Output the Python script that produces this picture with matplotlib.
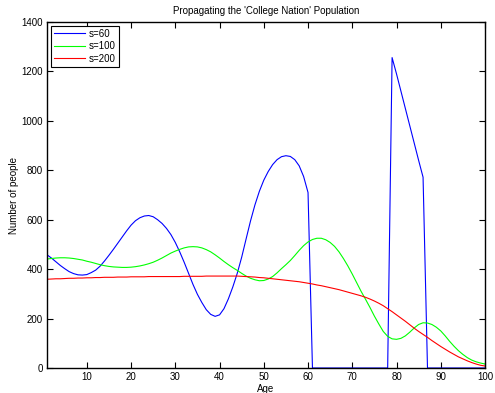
#!/usr/bin/python
# -*- coding: utf-8 -*-

import numpy as np
import matplotlib
matplotlib.use("Agg")
import matplotlib.pyplot as plt

# Ages 1..100
age = np.arange(1, 101)

# s=60 population
pop_s60 = [458, 445, 430, 415, 402, 390, 382, 377, 376, 378,
           386, 396, 412, 433, 456, 480, 505, 530, 555, 578,
           596, 608, 615, 617, 612, 600, 585, 565, 540, 508,
           470, 428, 383, 338, 298, 265, 236, 217, 209, 215,
           240, 280, 328, 383, 448, 522, 595, 660, 715, 760,
           795, 823, 843, 855, 859, 856, 843, 818, 775, 710,
           0, 0, 0, 0, 0, 0, 0, 0, 0, 0,
           0, 0, 0, 0, 0, 0, 0, 0, 1256, 1190,
           1120, 1050, 980, 910, 840, 772, 0, 0, 0, 0,
           0, 0, 0, 0, 0, 0, 0, 0, 0, 0]

# s=100 population
pop_s100 = [441, 443, 445, 446, 446, 445, 443, 440, 437, 432,
            428, 423, 418, 414, 411, 409, 408, 407, 407, 408,
            410, 413, 417, 422, 428, 436, 445, 455, 465, 473,
            480, 486, 490, 491, 490, 486, 479, 470, 458, 445,
            431, 418, 406, 395, 383, 372, 363, 357, 353, 354,
            360, 370, 385, 402, 418, 435, 455, 476, 495, 510,
            520, 525, 525, 519, 508, 492, 470, 443, 413, 380,
            345, 310, 278, 245, 210, 178, 148, 128, 118, 116,
            120, 130, 145, 162, 176, 183, 182, 176, 165, 150,
            130, 108, 88, 70, 55, 42, 32, 25, 20, 16]

# s=200 population
pop_s200 = [359, 360, 361, 361, 362, 363, 363, 364, 364, 365,
            365, 366, 366, 367, 367, 367, 368, 368, 368, 369,
            369, 369, 369, 370, 370, 370, 370, 370, 370, 370,
            370, 371, 371, 371, 371, 371, 372, 372, 372, 372,
            372, 372, 372, 372, 371, 370, 369, 368, 366, 365,
            363, 361, 359, 357, 355, 353, 351, 349, 346, 343,
            340, 336, 333, 329, 325, 321, 317, 312, 307, 302,
            297, 292, 286, 279, 271, 262, 252, 240, 228, 215,
            202, 189, 175, 161, 148, 136, 124, 111, 99, 87,
            76, 65, 55, 45, 37, 29, 22, 16, 11, 8]

labels = ['s=60', 's=100', 's=200']
colors = ['#0000ff', '#00ff00', '#ff0000']

plt.rcParams['font.family'] = ['Liberation Sans', 'DejaVu Sans']
plt.rcParams['font.size'] = 7

fig = plt.figure(figsize=(4.95, 3.93), dpi=100)
ax = fig.add_axes([47/495., 25/393., 438/495., 346/393.])

for y, lab, c in zip([pop_s60, pop_s100, pop_s200], labels, colors):
    ax.plot(age, y, color=c, lw=0.8, label=lab)

ax.set_xlim(1, 100)
ax.set_ylim(0, 1400)
ax.set_xticks(np.arange(10, 101, 10))
ax.set_yticks(np.arange(0, 1401, 200))
ax.tick_params(direction='in', length=4, width=0.8, top=True, right=True,
               labelsize=7, pad=3)
for sp in ax.spines.values():
    sp.set_linewidth(1.0)
    sp.set_color('black')

ax.set_title("Propagating the 'College Nation' Population", fontsize=7, pad=6)
ax.set_xlabel('Age', fontsize=7, labelpad=1)
ax.set_ylabel('Number of people', fontsize=7, labelpad=2)

leg = ax.legend(loc='upper left', fontsize=7, fancybox=False, framealpha=1,
                edgecolor='black', handlelength=3.2, borderaxespad=0.4,
                labelspacing=0.25, borderpad=0.3, handletextpad=0.4)
leg.get_frame().set_linewidth(0.8)

fig.savefig('out.png', dpi=100)
